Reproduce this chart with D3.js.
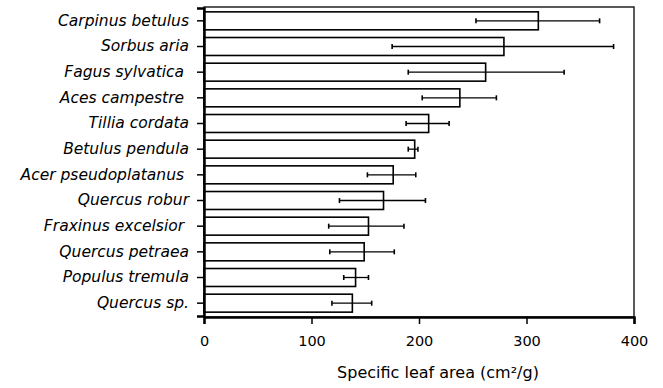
<!DOCTYPE html>
<html><head><meta charset="utf-8">
<script src="https://cdn.jsdelivr.net/npm/d3@7"></script>
<style>body{margin:0;background:#fff}svg{display:block}</style>
</head><body>
<svg id="c" width="663" height="388"></svg>
<script>
const species = ["Carpinus betulus","Sorbus aria","Fagus sylvatica ","Aces campestre ","Tillia cordata","Betulus pendula","Acer pseudoplatanus ","Quercus robur","Fraxinus excelsior ","Quercus petraea","Populus tremula","Quercus sp."];
const sla = [311,279,262,238,209,196,176,167,153,149,141,138];
const errLow = [253,175,190,203,188,190,152,126,116,117,130,119];
const errHigh = [368,381,335,272,228,199,197,206,186,177,153,156];
const xTicks = [0,100,200,300,400];
const xTitle = "Specific leaf area (cm²/g)";

const svg = d3.select("#c");
const L=204, R=634, T=7, B=317;
const font = "'Century Gothic','DejaVu Sans',sans-serif";
const x = d3.scaleLinear().domain([0,400]).range([L,R]);
const y = d3.scaleBand().domain(species).range([T+1,B-1]).paddingInner(0.3).paddingOuter(0.15);

// frame
svg.append("rect").attr("x",L).attr("y",T).attr("width",R-L).attr("height",B-T)
  .attr("fill","none").attr("stroke","#000").attr("stroke-width",1.3);

// bars
svg.append("g").selectAll("rect").data(species).join("rect")
  .attr("x",x(0)).attr("y",d=>y(d)).attr("width",(d,i)=>x(sla[i])-x(0)).attr("height",y.bandwidth())
  .attr("fill","#fff").attr("stroke","#000").attr("stroke-width",1.6);

// error bars
const eg = svg.append("g").attr("stroke","#000").attr("stroke-width",1.3);
species.forEach((s,i)=>{
  const cy = y(s)+y.bandwidth()/2;
  eg.append("line").attr("x1",x(errLow[i])).attr("x2",x(errHigh[i])).attr("y1",cy).attr("y2",cy);
  [errLow[i],errHigh[i]].forEach(v=>eg.append("line").attr("x1",x(v)).attr("x2",x(v)).attr("y1",cy-2.5).attr("y2",cy+2.5).attr("stroke-width",1.6));
});

// x axis
const xa = svg.append("g").attr("transform",`translate(0,${B})`)
  .call(d3.axisBottom(x).tickValues(xTicks).tickSize(7).tickPadding(12));
xa.select(".domain").attr("stroke-width",2.5);
xa.selectAll(".tick line").attr("stroke-width",1.5);
xa.selectAll("text").attr("font-family",font).attr("font-size",14.5).attr("fill","#000");

// y axis
const ya = svg.append("g").attr("transform",`translate(${L},0)`)
  .call(d3.axisLeft(y).tickSize(7).tickPadding(8));
ya.select(".domain").attr("stroke-width",2.5);
ya.selectAll(".tick line").attr("stroke-width",1.5);
ya.selectAll("text").attr("font-family",font).attr("font-size",15.5).attr("font-style","italic")
  .attr("fill","#000").style("white-space","pre");

svg.append("text").attr("x",438).attr("y",378).attr("text-anchor","middle")
  .attr("font-family",font).attr("font-size",16).attr("fill","#000").text(xTitle);
</script>
</body></html>
